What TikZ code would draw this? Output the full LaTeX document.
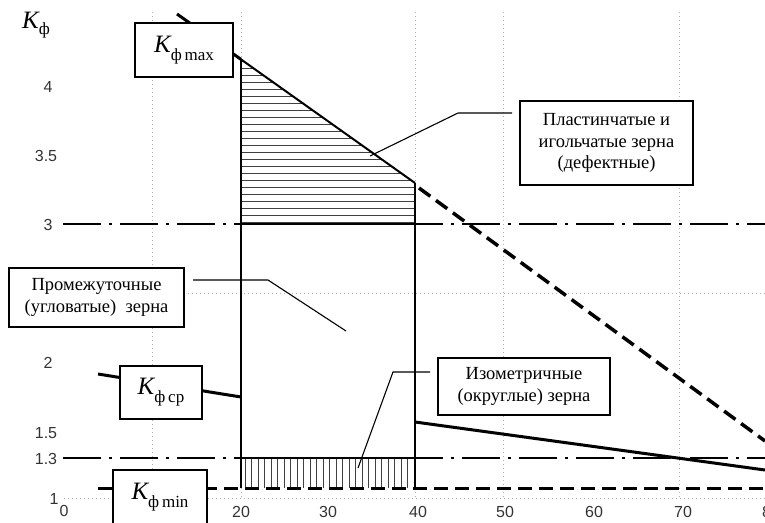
\documentclass[tikz,border=0pt]{standalone}
\usepackage{fontspec}
\setmainfont{Liberation Serif}
\newfontfamily\numfont{Liberation Sans}
\newcommand\KLab[1]{{\fontsize{25}{25}\selectfont\itshape K}\raisebox{-8pt}{\fontsize{17}{17}\selectfont ф\,#1}}
\begin{document}
\begin{tikzpicture}[x=1pt,y=-1pt,
  box/.style={draw,line width=1.3pt,fill=white,inner sep=0pt,align=center,font=\fontsize{18.5}{21.5}\selectfont},
  gridline/.style={black!30,line width=0.7pt,dash pattern=on 1pt off 3pt},
  dashdot/.style={line width=2.8pt,dash pattern=on 38pt off 8pt on 3pt off 8pt},
  dashedthick/.style={line width=3.5pt,dash pattern=on 14pt off 7pt},
  thickline/.style={line width=3pt},
  vline/.style={line width=1.5pt},
  leader/.style={line width=1.1pt},
  hatchline/.style={black!75,line width=0.8pt},
  num/.style={font=\numfont\fontsize{16}{16}\selectfont,text=black!80,inner sep=0pt}]
\useasboundingbox (0,0) rectangle (765,522);
% grid
\draw[gridline] (64,293) -- (765,293);
\draw[gridline] (64,498) -- (765,498);
\foreach \gx in {152,241,415,503,679} \draw[gridline] (\gx,12) -- (\gx,498);
% key coordinates
\coordinate (maxA) at (177,14);
\coordinate (maxB) at (241,59.4);
\coordinate (maxC) at (415,183);
\coordinate (maxD) at (419,188);
\coordinate (maxE) at (765,441);
% horizontal hatch
\begin{scope}
\clip (241,59.4) -- (415,183) -- (415,224) -- (241,224) -- cycle;
\fill[white] (241,50) rectangle (415,224);
\foreach \hy in {61,68,...,224} \draw[hatchline] (241,\hy) -- (415,\hy);
\end{scope}
% vertical hatch
\foreach \hx in {245,251.5,...,414} \draw[hatchline] (\hx,458) -- (\hx,488);
% reference levels
\draw[dashdot] (63,224) -- (765,224);
\draw[dashdot] (63,458) -- (765,458);
\draw[dashedthick,line width=3pt] (98,488) -- (765,488);
% Kmax line
\draw[thickline] (maxA) -- (maxB);
\draw[line width=2pt] (maxB) -- (maxC);
\draw[dashedthick] (maxD) -- (maxE);
% verticals
\draw[vline] (maxB) -- (241,488);
\draw[vline] (maxC) -- (415,488);
\draw[line width=1.8pt] (241,224) -- (415,224);
\draw[line width=1.8pt] (241,458) -- (415,458);
% Kcp line
\coordinate (cpA) at (98,374);
\coordinate (cpB) at (241,397);
\coordinate (cpC) at (415,422);
\coordinate (cpD) at (765,470);
\draw[thickline] (cpA) -- (cpB);
\draw[thickline] (cpC) -- (cpD);
% boxes
\node[box,minimum width=98pt,minimum height=54pt] (kmax) at (184,50) {\KLab{max}};
\node[box,minimum width=82pt,minimum height=53pt] (kcp) at (161,392.5) {\KLab{ср}};
\node[box,minimum width=94pt,minimum height=54pt] (kmin) at (160,497) {\KLab{min}};
\node[box,minimum width=173pt,minimum height=84pt] (plast) at (606.5,143) {Пластинчатые и\\игольчатые зерна\\(дефектные)};
\node[box,minimum width=175pt,minimum height=59pt] (prom) at (96.5,297.5) {Промежуточные\\(угловатые)\ \ зерна};
\node[box,minimum width=172pt,minimum height=57pt] (izo) at (524,386.5) {Изометричные\\(округлые) зерна};
% leaders
\coordinate (l1a) at (193,280);
\coordinate (l1b) at (268,280);
\coordinate (l1c) at (346,331);
\draw[leader] (l1a) -- (l1b) -- (l1c);
\coordinate (l2a) at (512,113);
\coordinate (l2b) at (458,113);
\coordinate (l2c) at (370,156);
\draw[leader] (l2a) -- (l2b) -- (l2c);
\coordinate (l3a) at (430,372);
\coordinate (l3b) at (393,372);
\coordinate (l3c) at (358,468);
\draw[leader] (l3a) -- (l3b) -- (l3c);
% axis labels
\node[inner sep=0pt] (ylab) at (36,25) {{\fontsize{25}{25}\selectfont\itshape K}\raisebox{-6pt}{\fontsize{17}{17}\selectfont ф}};
\node[num] (y4) at (48,87) {4};
\node[num] (y35) at (46,156) {3.5};
\node[num] (y3) at (48,225) {3};
\node[num] (y2) at (48,363) {2};
\node[num] (y15) at (46,433) {1.5};
\node[num] (y13) at (46,459) {1.3};
\node[num] (y1) at (54,499) {1};
\node[num] (x0) at (64,511) {0};
\node[num] (x20) at (241,512) {20};
\node[num] (x30) at (328,512) {30};
\node[num] (x40) at (418,512) {40};
\node[num] (x50) at (505,512) {50};
\node[num] (x60) at (594,512) {60};
\node[num] (x70) at (683,512) {70};
\node[num] (x80) at (771,512) {80};
\end{tikzpicture}
\end{document}
